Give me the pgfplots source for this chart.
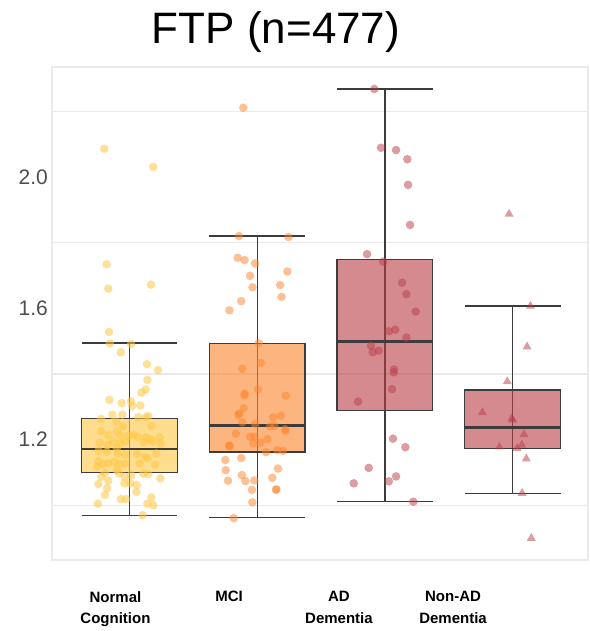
\documentclass[border=0pt]{standalone}
\usepackage{pgfplots}
\pgfplotsset{compat=1.18}
\usepackage{pgfplotstable}
\usepgfplotslibrary{statistics}
\usepackage{fontspec}
\setmainfont{Liberation Sans}

\definecolor{ncfill}{RGB}{255,198,68}
\definecolor{mcifill}{RGB}{252,132,43}
\definecolor{adfill}{RGB}{185,60,70}
\definecolor{boxline}{RGB}{60,60,60}
\definecolor{gridgray}{RGB}{234,234,234}
\definecolor{ticklab}{RGB}{77,77,77}

% jittered observations per diagnostic group (x = jittered position, y = FTP SUVR)
\pgfplotstableread{
x y
0.803 2.086
1.186 2.031
0.821 1.734
0.834 1.660
1.168 1.672
0.839 1.528
0.845 1.493
1.012 1.491
0.931 1.466
1.137 1.430
1.223 1.412
1.140 1.382
1.127 1.353
1.093 1.343
0.842 1.321
0.939 1.311
1.012 1.317
1.022 1.303
1.085 1.304
0.866 1.276
0.944 1.276
0.777 1.263
0.897 1.255
1.069 1.268
1.127 1.268
1.147 1.272
0.949 1.240
1.171 1.242
0.777 1.226
0.834 1.213
0.900 1.226
0.926 1.214
0.991 1.212
1.030 1.214
1.064 1.209
1.127 1.207
1.163 1.201
1.236 1.207
0.766 1.191
0.829 1.184
0.873 1.194
0.928 1.189
0.965 1.194
1.111 1.191
1.181 1.194
1.244 1.187
0.759 1.166
0.821 1.163
0.900 1.174
0.907 1.158
0.965 1.154
1.059 1.156
1.124 1.148
1.142 1.143
1.210 1.158
0.756 1.134
0.792 1.126
0.834 1.128
0.881 1.133
0.920 1.126
0.965 1.126
1.080 1.128
1.200 1.124
0.745 1.118
0.808 1.099
0.900 1.108
0.918 1.097
0.962 1.087
0.779 1.087
1.012 1.092
1.108 1.097
1.145 1.095
1.241 1.082
0.756 1.065
0.834 1.075
0.960 1.067
1.056 1.062
1.007 1.067
0.824 1.052
1.054 1.041
0.808 1.032
1.171 1.024
0.933 1.019
0.973 1.019
0.753 1.005
1.140 1.005
1.187 1.000
1.103 0.970
}\ncdata

\pgfplotstableread{
x y
1.891 2.211
1.857 1.820
2.245 1.817
1.847 1.754
1.901 1.747
1.983 1.737
2.236 1.712
1.944 1.699
2.180 1.671
1.963 1.664
2.190 1.635
1.875 1.622
1.782 1.594
2.012 1.494
2.027 1.434
1.883 1.416
2.006 1.353
1.902 1.341
1.899 1.335
2.223 1.334
1.894 1.296
1.860 1.280
1.852 1.275
2.126 1.268
2.186 1.273
1.883 1.253
1.983 1.248
2.100 1.240
2.134 1.242
2.218 1.232
2.223 1.227
1.832 1.218
1.944 1.209
1.977 1.209
2.079 1.202
2.024 1.191
1.969 1.189
1.779 1.182
1.785 1.181
2.069 1.162
2.157 1.168
2.202 1.166
1.750 1.138
1.875 1.144
1.753 1.107
2.163 1.112
1.879 1.092
2.118 1.084
1.771 1.075
1.907 1.074
1.977 1.076
1.959 1.047
2.147 1.047
2.150 1.049
1.962 1.009
1.816 0.961
}\mcidata

\pgfplotstableread{
x y
2.917 2.268
2.969 2.089
3.087 2.082
3.175 2.054
3.181 1.976
3.197 1.854
2.860 1.765
2.987 1.742
3.134 1.678
3.168 1.643
3.241 1.590
3.032 1.530
3.081 1.535
3.168 1.511
2.891 1.486
2.904 1.466
2.951 1.471
3.071 1.414
3.069 1.405
3.056 1.354
2.789 1.316
3.063 1.203
3.160 1.177
2.873 1.114
2.756 1.067
3.087 1.088
3.030 1.073
3.222 1.011
}\addata

\pgfplotstableread{
x y
3.972 1.887
4.139 1.607
4.113 1.483
3.958 1.377
3.763 1.283
3.993 1.265
4.001 1.260
4.089 1.216
4.071 1.184
3.896 1.178
4.034 1.174
4.107 1.142
4.074 1.037
4.146 0.900
}\nonaddata

\begin{document}
\begin{tikzpicture}
\begin{axis}[
  scale only axis, width=536pt, height=493pt,
  xmin=0.393, xmax=4.590, ymin=0.8335, ymax=2.335,
  axis line style={draw=gridgray, line width=1.2pt},
  ytick={1.2,1.6,2.0},
  minor ytick={1.0,1.4,1.8,2.2},
  yminorgrids=true,
  minor grid style={draw=gridgray, line width=1.1pt},
  major tick length=0pt, minor tick length=0pt,
  /pgf/number format/assume math mode=true,
  yticklabel={\pgfmathprintnumber[fixed, fixed zerofill, precision=1]{\tick}},
  yticklabel style={font=\fontsize{21}{24}\selectfont, text=ticklab, anchor=east, inner sep=0pt, xshift=-4pt},
  xtick={0.890,1.779,2.640,3.533},
  xticklabels={{Normal\\Cognition},{MCI},{AD\\Dementia},{Non-AD\\Dementia}},
  xticklabel style={font=\bfseries\fontsize{15}{21.7}\selectfont, align=center, anchor=north, inner sep=0pt, yshift=-31pt},
  title={FTP (n=477)},
  title style={font=\fontsize{44}{48}\selectfont, at={(axis description cs:0.418,1)}, anchor=base, yshift=17pt, inner sep=0pt},
  boxplot/draw direction=y,
  boxplot/every median/.style={line width=2.6pt},
  clip=false,
]
% whisker stems, drawn beneath the translucent boxes
\addplot[boxline, line width=1.3pt] coordinates {(1,0.970) (1,1.494)};
\addplot[boxline, line width=1.3pt] coordinates {(2,0.9625) (2,1.820)};
\addplot[boxline, line width=1.3pt] coordinates {(3,1.011) (3,2.268)};
\addplot[boxline, line width=1.3pt] coordinates {(4,1.037) (4,1.607)};

% boxes
\addplot[boxplot prepared={draw position=1, lower whisker=0.970, lower quartile=1.099, median=1.172, upper quartile=1.264, upper whisker=1.494, box extend=0.75, whisker extend=0.75},
  draw=boxline, fill=ncfill, fill opacity=0.6, line width=1.3pt] coordinates {};
\addplot[boxplot prepared={draw position=2, lower whisker=0.9625, lower quartile=1.1625, median=1.243, upper quartile=1.492, upper whisker=1.820, box extend=0.75, whisker extend=0.75},
  draw=boxline, fill=mcifill, fill opacity=0.6, line width=1.3pt] coordinates {};
\addplot[boxplot prepared={draw position=3, lower whisker=1.011, lower quartile=1.289, median=1.4985, upper quartile=1.749, upper whisker=2.268, box extend=0.75, whisker extend=0.75},
  draw=boxline, fill=adfill, fill opacity=0.6, line width=1.3pt] coordinates {};
\addplot[boxplot prepared={draw position=4, lower whisker=1.037, lower quartile=1.174, median=1.2365, upper quartile=1.351, upper whisker=1.607, box extend=0.75, whisker extend=0.75},
  draw=boxline, fill=adfill, fill opacity=0.6, line width=1.3pt] coordinates {};

% jittered points
\addplot[only marks, mark=*, mark size=4.3pt, mark options={draw=ncfill, draw opacity=0, fill=ncfill, fill opacity=0.55}] table[x=x, y=y] {\ncdata};
\addplot[only marks, mark=*, mark size=4.3pt, mark options={draw=mcifill, draw opacity=0, fill=mcifill, fill opacity=0.5}] table[x=x, y=y] {\mcidata};
\addplot[only marks, mark=*, mark size=4.3pt, mark options={draw=adfill, draw opacity=0, fill=adfill, fill opacity=0.5}] table[x=x, y=y] {\addata};
\addplot[only marks, mark=triangle*, mark size=5.2pt, mark options={draw=adfill, draw opacity=0, fill=adfill, fill opacity=0.5}] table[x=x, y=y] {\nonaddata};
\end{axis}
\pgfresetboundingbox
\path[use as bounding box] (-52pt,-71pt) rectangle (537pt,560pt);
\end{tikzpicture}
\end{document}
